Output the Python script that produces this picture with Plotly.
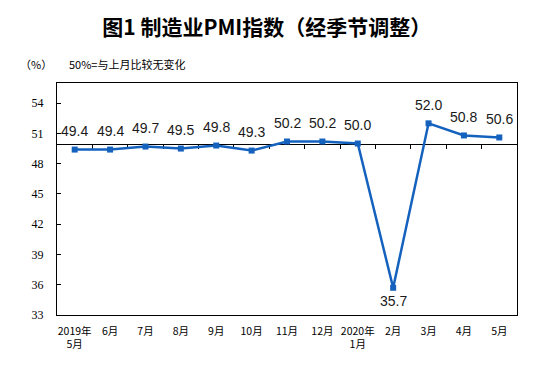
import plotly.graph_objects as go

# ---- data ----
month_labels = ["2019年<br>5月", "6月", "7月", "8月", "9月", "10月", "11月", "12月",
                "2020年<br>1月", "2月", "3月", "4月", "5月"]
pmi_values = [49.4, 49.4, 49.7, 49.5, 49.8, 49.3, 50.2, 50.2, 50.0, 35.7, 52.0, 50.8, 50.6]
y_ticks = [33, 36, 39, 42, 45, 48, 51, 54]
y_range = [33, 56]
baseline = 50

x_pos = list(range(len(pmi_values)))
text_labels = [f"{v:.1f}" for v in pmi_values]

BLUE = "#1462BE"
n = len(pmi_values)
boundary_ticks = [i + 0.5 for i in range(n - 1)]

fig = go.Figure()
# empty trace so the main (category label) axis exists
fig.add_trace(go.Scatter(x=[], y=[], xaxis="x", yaxis="y", showlegend=False, hoverinfo="skip"))
# data series, drawn on the overlaid axis that crosses at 50
fig.add_trace(go.Scatter(
    x=x_pos, y=pmi_values, xaxis="x2", yaxis="y",
    mode="lines+markers",
    line=dict(color=BLUE, width=2.5),
    marker=dict(symbol="square", size=6, color=BLUE),
    cliponaxis=False,
    showlegend=False,
    hoverinfo="skip",
))

for xi, v, t in zip(x_pos, pmi_values, text_labels):
    below = v < 40
    fig.add_annotation(
        x=xi, y=v, xref="x2", yref="y", text=t, showarrow=False,
        yshift=-13 if below else 18.5,
        font=dict(family="Liberation Sans, Arial", size=14, color="#1a1a1a"),
    )

fig.update_layout(
    width=550, height=371,
    margin=dict(l=56.5, r=33, t=82.5, b=56, autoexpand=False),
    paper_bgcolor="white", plot_bgcolor="white",
    title=dict(
        text="图1 制造业PMI指数（经季节调整）",
        x=0.485, xanchor="center", y=0.925, yanchor="middle",
        font=dict(family="Noto Sans CJK SC", size=21, color="black", weight="bold"),
    ),
    xaxis=dict(
        range=[-0.5, n - 0.5], automargin=False,
        tickmode="array", tickvals=x_pos, ticktext=month_labels,
        tickfont=dict(family="Noto Sans CJK SC", size=10.5, color="black"),
        showline=True, linecolor="black", linewidth=1, mirror=True,
        ticks="", showgrid=False, zeroline=False, ticklabelstandoff=6,
    ),
    xaxis2=dict(
        range=[-0.5, n - 0.5], overlaying="x", anchor="free", automargin=False,
        position=(baseline - y_range[0]) / (y_range[1] - y_range[0]),
        side="bottom", layer="below traces",
        showline=True, linecolor="black", linewidth=1,
        tickmode="array", tickvals=boundary_ticks,
        ticks="outside", ticklen=4, tickcolor="black",
        showticklabels=False, showgrid=False, zeroline=False,
    ),
    yaxis=dict(
        range=y_range, automargin=False,
        tickmode="array", tickvals=y_ticks,
        tickfont=dict(family="Liberation Serif, Times New Roman, serif", size=12, color="black"),
        showline=True, linecolor="black", linewidth=1, mirror=True,
        ticks="inside", ticklen=4, tickcolor="black", ticklabelstandoff=10,
        showgrid=False, zeroline=False,
    ),
)

fig.add_annotation(
    text="（%）", xref="paper", yref="paper", x=-0.085, y=1.08,
    xanchor="left", yanchor="middle", showarrow=False,
    font=dict(family="Noto Sans CJK SC", size=11, color="black"),
)
fig.add_annotation(
    text="50%=与上月比较无变化", xref="paper", yref="paper", x=0.022, y=1.08,
    xanchor="left", yanchor="middle", showarrow=False,
    font=dict(family="Noto Sans CJK SC", size=11, color="black"),
)

fig.write_html("out.html", config={"displayModeBar": False},
               post_script="document.body.style.margin='0';")
